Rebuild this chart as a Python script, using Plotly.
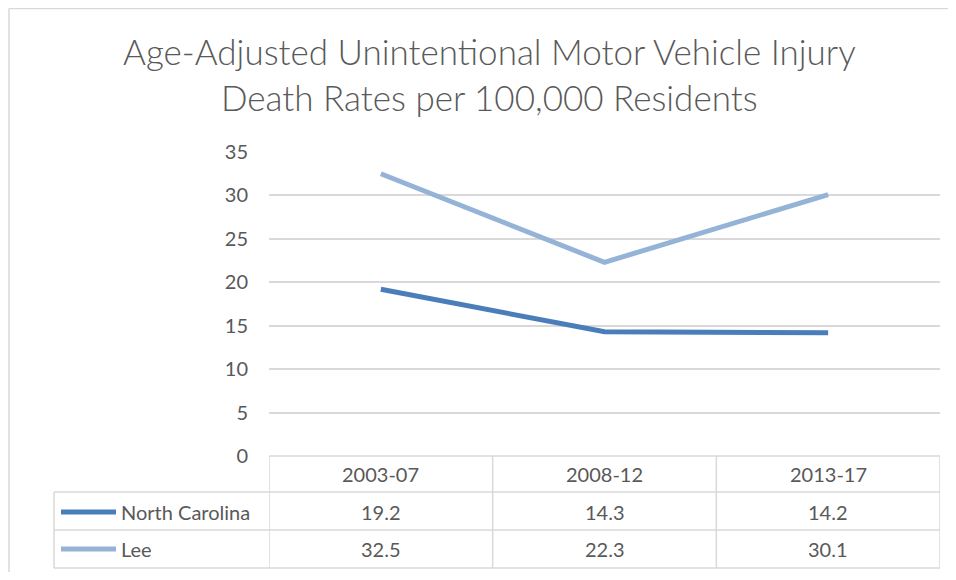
import plotly.graph_objects as go

# ---- data ----
categories = ["2003-07", "2008-12", "2013-17"]
series_names = ["North Carolina", "Lee"]
nc_values = [19.2, 14.3, 14.2]
lee_values = [32.5, 22.3, 30.1]
y_tick_values = [0, 5, 10, 15, 20, 25, 30, 35]
title_lines = ["Age-Adjusted Unintentional Motor Vehicle Injury",
               "Death Rates per 100,000 Residents"]

# ---- layout geometry (page pixel coordinates; page body has an 8px margin) ----
OFF = 8
PAGE_W, PAGE_H = 956, 580
W, H = PAGE_W - 2 * OFF, PAGE_H - 2 * OFF
PLOT_L, PLOT_R, PLOT_T, PLOT_B = 269, 940, 152, 456
L, R = PLOT_L - OFF, (OFF + W) - PLOT_R
T, B = PLOT_T - OFF, (OFF + H) - PLOT_B
PH = PLOT_B - PLOT_T
PW = PLOT_R - PLOT_L


def py(ypix):
    return (PLOT_B - ypix) / PH


def px(xpix):
    return (xpix - PLOT_L) / PW


TEXT = "#595959"
GRID = "#d9d9d9"
FONT = "Lato"
colors = ["#4a7ebb", "#95b3d7"]
all_values = [nc_values, lee_values]

fig = go.Figure()
for name, vals, col in zip(series_names, all_values, colors):
    fig.add_trace(go.Scatter(x=categories, y=vals, mode="lines", name=name,
                             line=dict(color=col, width=5), hoverinfo="skip"))

shapes = []
# outer chart border (top and left edges visible)
shapes.append(dict(type="line", xref="paper", yref="paper",
                   x0=px(9), x1=px(OFF + W), y0=py(8.5), y1=py(8.5),
                   line=dict(color=GRID, width=1.5)))
shapes.append(dict(type="line", xref="paper", yref="paper",
                   x0=px(9), x1=px(9), y0=py(8.5), y1=py(OFF + H),
                   line=dict(color=GRID, width=1.5)))
# table: column separators
n = len(categories)
for i in range(n + 1):
    shapes.append(dict(type="line", xref="x", yref="paper",
                       x0=i - 0.5, x1=i - 0.5, y0=0, y1=py(568),
                       line=dict(color=GRID, width=1.5)))
# top of table (axis line)
shapes.append(dict(type="line", xref="x", yref="paper", x0=-0.5, x1=n - 0.5,
                   y0=0, y1=0, line=dict(color=GRID, width=1.5)))
row_lines = [492, 530, 568]
for yl in row_lines:
    shapes.append(dict(type="line", xref="paper", yref="paper", x0=px(54), x1=1,
                       y0=py(yl), y1=py(yl), line=dict(color=GRID, width=1.5)))
shapes.append(dict(type="line", xref="paper", yref="paper", x0=px(54), x1=px(54),
                   y0=py(492), y1=py(568), line=dict(color=GRID, width=1.5)))

row_centers = [512, 549]
for yc, col in zip(row_centers, colors):
    shapes.append(dict(type="line", xref="paper", yref="paper", x0=px(61), x1=px(116),
                       y0=py(yc), y1=py(yc), line=dict(color=col, width=5)))

annotations = []
for i, line in enumerate(title_lines):
    annotations.append(dict(text=line, xref="paper", yref="paper", x=px(489), y=py(51 + 46 * i),
                            xanchor="center", yanchor="middle", showarrow=False,
                            font=dict(family=FONT, size=35, color=TEXT, weight=300)))
for i, c in enumerate(categories):
    annotations.append(dict(text=c, xref="x", yref="paper", x=i, y=py(474),
                            xanchor="center", yanchor="middle", showarrow=False,
                            font=dict(family=FONT, size=20, color=TEXT)))
for yc, name, vals in zip(row_centers, series_names, all_values):
    annotations.append(dict(text=name, xref="paper", yref="paper", x=px(119), y=py(yc),
                            xanchor="left", yanchor="middle", showarrow=False,
                            font=dict(family=FONT, size=20, color=TEXT)))
    for i, v in enumerate(vals):
        annotations.append(dict(text=f"{v:.1f}", xref="x", yref="paper", x=i, y=py(yc),
                                xanchor="center", yanchor="middle", showarrow=False,
                                font=dict(family=FONT, size=20, color=TEXT)))

fig.update_layout(
    width=W, height=H,
    margin=dict(l=L, r=R, t=T, b=B),
    paper_bgcolor="white", plot_bgcolor="white",
    showlegend=False,
    shapes=shapes, annotations=annotations,
    xaxis=dict(type="category", range=[-0.5, n - 0.5], showticklabels=False,
               showgrid=False, zeroline=False, showline=False, fixedrange=True),
    yaxis=dict(range=[0, 35], tickvals=y_tick_values, showgrid=True, gridcolor=GRID,
               gridwidth=1.5, zeroline=False, showline=False, ticks="",
               ticklabelstandoff=20,
               tickfont=dict(family=FONT, size=20, color=TEXT), fixedrange=True),
)

fig.write_html("out.html")
